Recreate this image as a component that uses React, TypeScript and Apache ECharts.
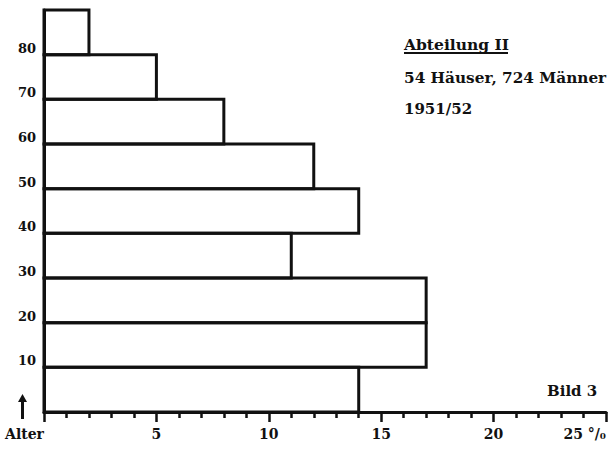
import React, { useEffect, useRef } from "react";
import * as echarts from "echarts";

const ageStarts = [0, 10, 20, 30, 40, 50, 60, 70, 80];
const shares = [14, 17, 17, 11, 14, 12, 8, 5, 2];
const yTickLabels = ["10", "20", "30", "40", "50", "60", "70", "80"];
const title = "Abteilung II";
const subtitle = "54 Häuser, 724 Männer";
const period = "1951/52";
const figureLabel = "Bild 3";

const FONT = "'DejaVu Serif', 'Liberation Serif', serif";
const INK = "#111";

export default function App() {
  const ref = useRef<HTMLDivElement>(null);
  useEffect(() => {
    const chart = echarts.init(ref.current!, null, { renderer: "svg" });
    const data = ageStarts.map((a, i) => [shares[i], a]);
    chart.setOption({
      animation: false,
      backgroundColor: "#fff",
      grid: { left: 44, right: 7, top: 10, bottom: 37 },
      xAxis: {
        type: "value",
        min: 0,
        max: 25,
        interval: 5,
        axisLine: { show: true, lineStyle: { color: INK, width: 3 } },
        axisTick: { show: true, length: 10, lineStyle: { color: INK, width: 2.5 } },
        minorTick: { show: true, splitNumber: 5, length: 6, lineStyle: { color: INK, width: 2.5 } },
        splitLine: { show: false },
        axisLabel: {
          margin: 15,
          color: INK,
          fontFamily: FONT,
          fontWeight: "bold",
          fontSize: 14,
          alignMinLabel: "right",
          alignMaxLabel: "right",
          formatter: (v: number) => (v === 0 ? "Alter" : v === 25 ? "25 °/₀" : String(v)),
        },
      },
      yAxis: {
        type: "value",
        min: 0,
        max: 90,
        interval: 10,
        axisLine: { show: true, lineStyle: { color: INK, width: 3 } },
        axisTick: { show: false },
        splitLine: { show: false },
        axisLabel: {
          margin: 8,
          color: INK,
          fontFamily: FONT,
          fontWeight: "bold",
          fontSize: 13,
          verticalAlign: "bottom",
          formatter: (v: number) => (yTickLabels.includes(String(v)) ? String(v) : ""),
        },
      },
      series: [
        {
          type: "custom",
          data,
          encode: { x: 0, y: 1 },
          renderItem: (params: any, api: any) => {
            const v = api.value(0);
            const lo = api.value(1);
            const p0 = api.coord([0, lo]);
            const p1 = api.coord([v, lo + 10]);
            return {
              type: "rect",
              shape: { x: p0[0], y: p1[1], width: p1[0] - p0[0], height: p0[1] - p1[1] },
              style: { fill: "none", stroke: INK, lineWidth: 3 },
            };
          },
        },
      ],
      graphic: [
        {
          type: "text",
          left: 404,
          top: 36,
          style: { text: title, font: `bold 15.5px ${FONT}`, fill: INK },
        },
        {
          type: "line",
          shape: { x1: 404, y1: 53, x2: 508, y2: 53 },
          style: { stroke: INK, lineWidth: 2 },
        },
        {
          type: "text",
          left: 404,
          top: 70,
          style: { text: subtitle, font: `bold 15.3px ${FONT}`, fill: INK },
        },
        {
          type: "text",
          left: 404,
          top: 101,
          style: { text: period, font: `bold 15px ${FONT}`, fill: INK },
        },
        {
          type: "text",
          left: 547,
          top: 383,
          style: { text: figureLabel, font: `bold 15px ${FONT}`, fill: INK },
        },
        {
          type: "line",
          shape: { x1: 22.5, y1: 419, x2: 22.5, y2: 400 },
          style: { stroke: INK, lineWidth: 3 },
        },
        {
          type: "polygon",
          shape: { points: [[18, 402], [27, 402], [22.5, 394]] },
          style: { fill: INK },
        },
      ],
    });
    return () => chart.dispose();
  }, []);
  return <div ref={ref} style={{ width: 613, height: 449, position: "absolute", left: 0, top: 0 }} />;
}
